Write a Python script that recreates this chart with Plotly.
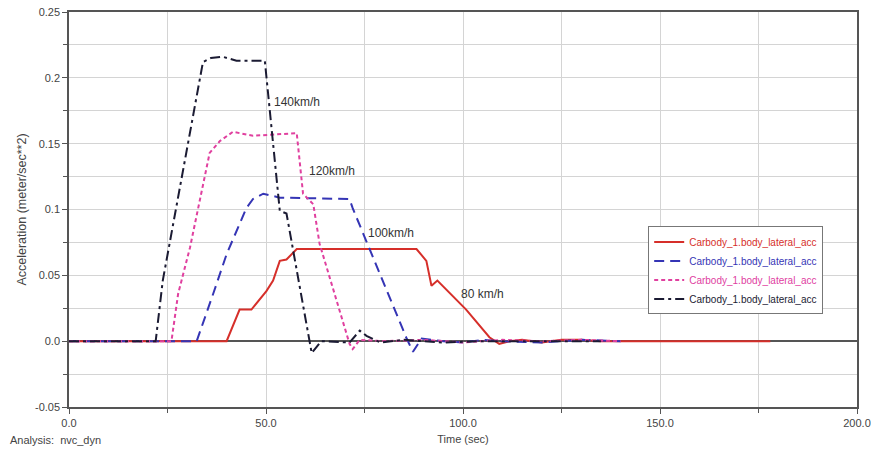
import plotly.graph_objects as go

# ---- data ----
t_80 = [0, 40, 43.3, 46.3, 50.1, 51.8, 53.5, 55.2, 57.8, 75, 88.2, 90.7, 92, 93.5, 100.8, 106.7, 109.2, 111.8, 115, 120, 125, 130, 135, 140, 150, 160, 178]
a_80 = [0, 0, 0.024, 0.024, 0.038, 0.046, 0.061, 0.062, 0.070, 0.070, 0.070, 0.061, 0.042, 0.046, 0.024, 0.003, -0.002, 0, 0.001, -0.001, 0.001, 0.001, 0, 0, 0, 0, 0]

t_100 = [0, 32.4, 36.6, 40, 45, 46.7, 49.3, 53.5, 71.2, 72, 85.7, 87.3, 89.5, 95, 100, 105, 110, 120, 130, 140]
a_100 = [0, 0, 0.036, 0.066, 0.101, 0.108, 0.112, 0.109, 0.108, 0.101, 0.002, -0.008, 0.002, 0, -0.001, 0.001, 0, -0.001, 0.001, 0]

t_120 = [0, 26, 27.7, 30.7, 35.7, 38.3, 41.6, 46.7, 57.8, 59.4, 62, 63.6, 66.2, 68.7, 71.2, 72, 73.8, 80, 90, 100, 110, 120, 130, 140]
a_120 = [0, 0, 0.036, 0.071, 0.143, 0.152, 0.159, 0.156, 0.158, 0.112, 0.104, 0.074, 0.048, 0.023, -0.002, -0.006, 0.001, 0.0, 0.001, -0.001, 0.001, 0, 0.001, 0]

t_140 = [0, 22, 23.8, 34, 36, 39, 42.5, 49.7, 53.5, 55.2, 61.6, 64, 71.2, 73.8, 75.5, 79, 85, 95, 105, 120, 135]
a_140 = [0, 0, 0.046, 0.212, 0.215, 0.216, 0.213, 0.213, 0.099, 0.097, -0.009, 0.0, -0.001, 0.008, 0.004, -0.001, 0.001, -0.001, 0.0, 0.0, 0]

series_name = "Carbody_1.body_lateral_acc"
speed_labels = ["80 km/h", "100km/h", "120km/h", "140km/h"]
label_pos_t = [99, 75.5, 60.5, 51.5]
label_pos_a = [0.036, 0.082, 0.129, 0.182]

colors = ["#d62f2a", "#3535b5", "#e0409f", "#1b1b33"]
dashes = ["solid", "10px,6px", "4px,3px", "10px,4px,3px,4px"]

font_family = "Liberation Sans, Arial, sans-serif"
txt = "#444444"

fig = go.Figure()
for t, a, c, d in zip([t_80, t_100, t_120, t_140], [a_80, a_100, a_120, a_140], colors, dashes):
    fig.add_trace(go.Scatter(
        x=t, y=a, mode="lines",
        line=dict(color=c, dash=d, width=2),
        name=f"<span style='color:{c}'>{series_name}</span>",
    ))

for lab, xt, ya in zip(speed_labels, label_pos_t, label_pos_a):
    fig.add_annotation(x=xt, y=ya, text=lab, showarrow=False, xanchor="left",
                       font=dict(family=font_family, size=12, color="#333333"))

fig.add_annotation(xref="paper", yref="paper", x=-0.077, y=-0.084, xanchor="left", yanchor="middle",
                   text="Analysis:  nvc_dyn", showarrow=False,
                   font=dict(family=font_family, size=11, color=txt))

grid = "#d4d4d4"
fig.update_layout(
    width=871, height=452,
    margin=dict(l=69, r=14, t=12, b=45),
    paper_bgcolor="white", plot_bgcolor="white",
    font=dict(family=font_family, size=11, color=txt),
    showlegend=True,
    legend=dict(x=0.735, y=0.457, xanchor="left", yanchor="top",
                bgcolor="white", bordercolor="#777777", borderwidth=1,
                font=dict(size=10), tracegroupgap=0, itemwidth=30,
                traceorder="normal"),
    xaxis=dict(range=[0, 200], tickvals=[0, 50, 100, 150, 200],
               ticktext=["0.0", "50.0", "100.0", "150.0", "200.0"],
               automargin=False,
               showgrid=True, gridcolor=grid, gridwidth=1,
               minor=dict(dtick=25, showgrid=True, gridcolor=grid, ticks="outside", ticklen=4, tickcolor="#555"),
               ticks="outside", ticklen=5, tickcolor="#555",
               showline=True, linecolor="#555555", linewidth=1.5, mirror=True,
               zeroline=False,
               title=dict(text="Time (sec)", font=dict(size=11), standoff=7)),
    yaxis=dict(range=[-0.05, 0.25], tickvals=[-0.05, 0, 0.05, 0.1, 0.15, 0.2, 0.25],
               ticktext=["-0.05", "0.0", "0.05", "0.1", "0.15", "0.2", "0.25"],
               automargin=False,
               showgrid=True, gridcolor=grid, gridwidth=1,
               minor=dict(dtick=0.025, showgrid=True, gridcolor=grid, ticks="outside", ticklen=4, tickcolor="#555"),
               ticks="outside", ticklen=5, tickcolor="#555",
               showline=True, linecolor="#555555", linewidth=1.5, mirror=True,
               zeroline=True, zerolinecolor="#555555", zerolinewidth=1.5,
               title=dict(text="Acceleration (meter/sec**2)", font=dict(size=12.5), standoff=6)),
)

fig.write_html("out.html")
